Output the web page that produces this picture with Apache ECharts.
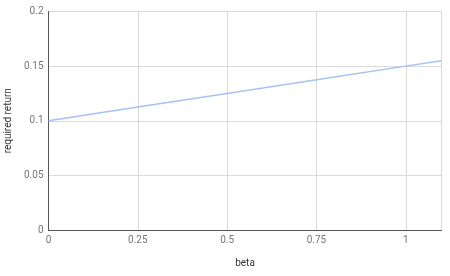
<!DOCTYPE html>
<html><head><meta charset="utf-8">
<script src="https://cdn.jsdelivr.net/npm/echarts@6/dist/echarts.min.js"></script>
<style>html,body{margin:0;padding:0;background:#fff}#c{width:450px;height:276px}</style>
</head><body><div id="c"></div>
<script>
var betas = [0, 0.25, 0.5, 0.75, 1, 1.1];
var requiredReturn = [0.1, 0.1125, 0.125, 0.1375, 0.15, 0.155];
var xName = 'beta';
var yName = 'required return';

var chart = echarts.init(document.getElementById('c'), null, {renderer: 'canvas'});
var txt = {color: '#757575', fontFamily: 'Roboto', fontSize: 10};
chart.setOption({
  animation: false,
  grid: {left: 48.5, right: 8.5, top: 11.5, bottom: 46, containLabel: false, outerBoundsMode: 'none'},
  xAxis: {
    type: 'value', min: 0, max: 1.1, interval: 0.25,
    name: xName, nameLocation: 'middle', nameGap: 28,
    nameTextStyle: {color: '#333', fontFamily: 'Roboto', fontSize: 10},
    axisLine: {show: true, onZero: false, lineStyle: {color: '#555', width: 1}},
    axisTick: {show: false},
    axisLabel: Object.assign({margin: 5, showMaxLabel: false}, txt),
    splitLine: {show: true, lineStyle: {color: '#d9d9d9', width: 1}}
  },
  yAxis: {
    type: 'value', min: 0, max: 0.2, interval: 0.05,
    name: yName, nameLocation: 'middle', nameGap: 35,
    nameTextStyle: {color: '#333', fontFamily: 'Roboto', fontSize: 10},
    axisLine: {show: true, lineStyle: {color: '#555', width: 1}},
    axisTick: {show: false},
    axisLabel: Object.assign({margin: 5}, txt),
    splitLine: {show: true, lineStyle: {color: '#d9d9d9', width: 1}}
  },
  series: [{
    type: 'line',
    data: betas.map(function (b, i) { return [b, requiredReturn[i]]; }),
    showSymbol: false,
    lineStyle: {color: '#a4c2f4', width: 1.5},
    itemStyle: {color: '#a4c2f4'}
  }]
});
</script></body></html>
